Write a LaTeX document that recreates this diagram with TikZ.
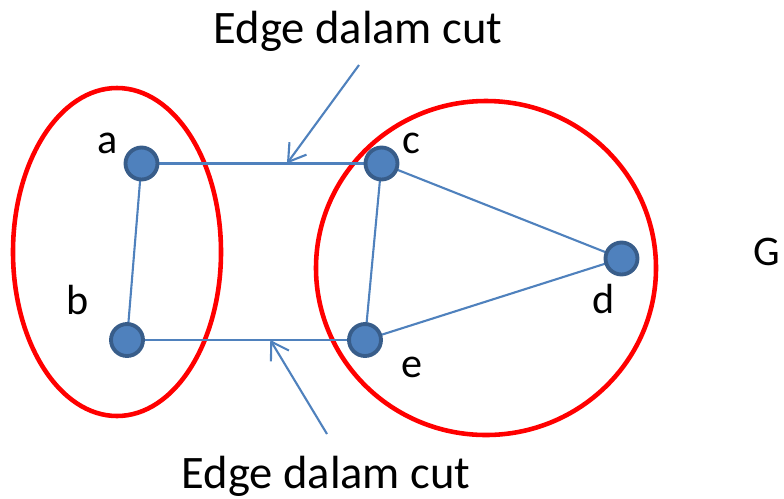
\documentclass[tikz,border=0pt]{standalone}
\usepackage{fontspec}
\setmainfont{Carlito}
\usepackage{xcolor}
\usetikzlibrary{arrows.meta}
\definecolor{nodeblue}{HTML}{4F81BD}
\definecolor{nodeborder}{HTML}{385D8A}

\begin{document}
\begin{tikzpicture}[x=0.02cm, y=-0.02cm, >={Straight Barb[length=9.5pt,width=12pt]},
    vertex/.style={circle, fill=nodeblue, draw=nodeborder, line width=2.2pt, minimum size=0.64cm, inner sep=0pt},
    edge/.style={draw=nodeblue, line width=1.2pt},
    lbl/.style={anchor=base, font=\fontsize{24}{28}\selectfont},
    cutset/.style={draw=red, line width=2.6pt}]
    \useasboundingbox (0,0) rectangle (784,498);
    % Cut sets
    \draw [cutset] (117,252) ellipse [x radius=104, y radius=164];
    \draw [cutset] (486,268) ellipse [x radius=170, y radius=167];
    % Edges
    \path (141.5,163.5) coordinate (pa) (127,340) coordinate (pb)
          (381.5,163.5) coordinate (pc) (621.5,258.5) coordinate (pd)
          (365,340) coordinate (pe);
    \draw [edge] (pa) -- (pb);
    \draw [edge] (pa) -- coordinate[pos=0.606] (cuta) (pc);
    \draw [edge] (pb) -- coordinate[pos=0.602] (cutb) (pe);
    \draw [edge] (pc) -- (pe);
    \draw [edge] (pc) -- (pd);
    \draw [edge] (pe) -- (pd);
    % Vertices
    \node [vertex] (a) at (pa) {};
    \node [vertex] (b) at (pb) {};
    \node [vertex] (c) at (pc) {};
    \node [vertex] (d) at (pd) {};
    \node [vertex] (e) at (pe) {};
    \node [lbl] (la) at (108,153) {a};
    \node [lbl] (lb) at (78,314) {b};
    \node [lbl] (lc) at (411,153) {c};
    \node [lbl] (ld) at (604,313) {d};
    \node [lbl] (le) at (412,377) {e};
    \node [lbl] (g) at (767,265) {G};
    % Labels for the cut edges
    \node [lbl, font=\fontsize{26.5}{30}\selectfont] (top) at (358,43) {Edge dalam cut};
    \node [lbl, font=\fontsize{26.5}{30}\selectfont] (bot) at (326,488) {Edge dalam cut};
    \coordinate (ta) at (359,65);
    \coordinate (tb) at (327,434);
    \draw [->, edge] (ta) -- (cuta);
    \draw [->, edge] (tb) -- (cutb);
\end{tikzpicture}
\end{document}
